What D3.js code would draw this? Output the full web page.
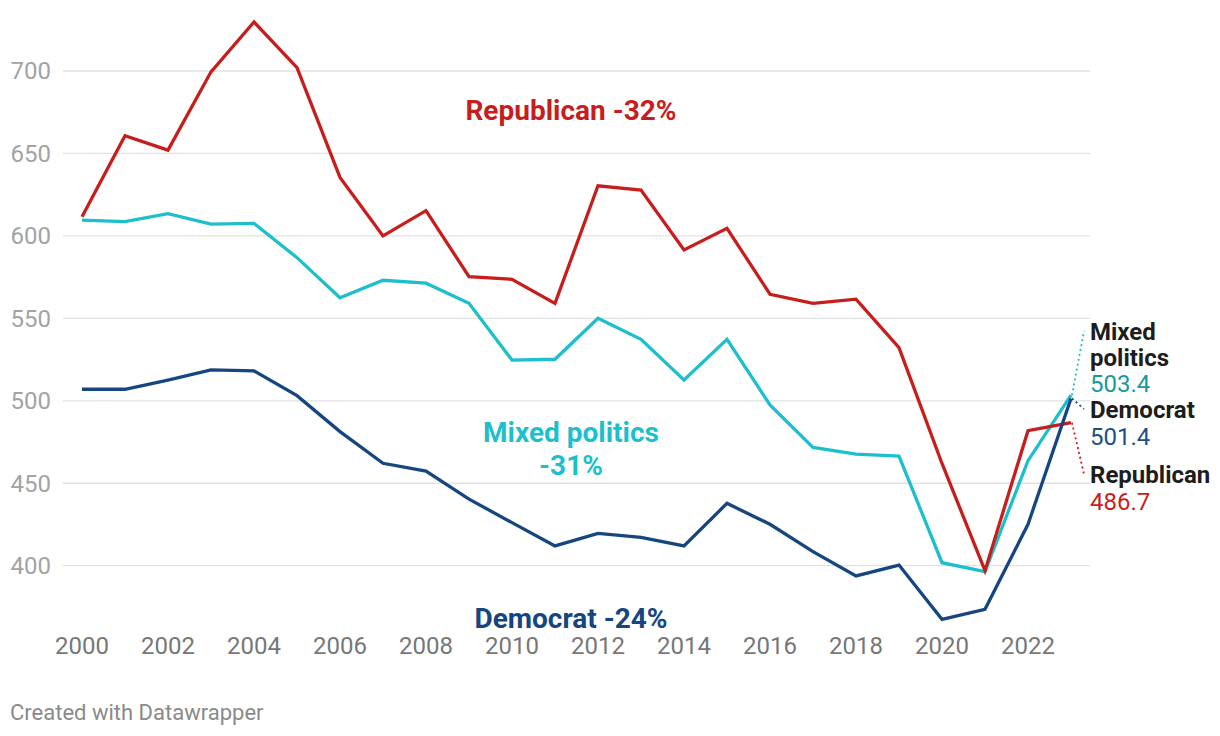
<!DOCTYPE html>
<html>
<head>
<meta charset="utf-8">
<script src="https://cdn.jsdelivr.net/npm/d3@7"></script>
<style>
  html, body { margin: 0; padding: 0; background: #fff; }
  svg { display: block; font-family: Roboto, "Noto Sans", sans-serif; }
</style>
</head>
<body>
<svg id="chart" width="1220" height="736"></svg>
<script>
// ---- Data ----
const years = d3.range(2000, 2024);
const republican = [611.6, 660.8, 652.0, 699.5, 729.7, 702.0, 635.5, 600.0, 615.3, 575.3, 573.7, 559.1, 630.4, 627.8, 591.5, 604.6, 564.6, 559.1, 561.6, 532.2, 462.0, 397.0, 481.9, 486.7];
const mixedPolitics = [609.6, 608.6, 613.5, 607.2, 607.6, 586.8, 562.5, 573.1, 571.3, 559.1, 524.7, 525.2, 550.0, 537.3, 512.6, 537.3, 497.5, 471.7, 467.7, 466.5, 401.8, 396.4, 463.7, 503.4];
const democrat = [507.0, 507.0, 512.6, 518.7, 518.1, 503.1, 481.3, 462.1, 457.4, 440.4, 426.1, 412.0, 419.6, 417.2, 412.0, 437.8, 425.1, 408.5, 393.8, 400.4, 367.5, 373.6, 425.1, 501.4];
const yTicks = [400, 450, 500, 550, 600, 650, 700];
const xTicks = [2000, 2002, 2004, 2006, 2008, 2010, 2012, 2014, 2016, 2018, 2020, 2022];
const seriesNames = ["Mixed politics", "Republican", "Democrat"];
const changeLabels = ["-31%", "-32%", "-24%"];

// ---- Styles ----
const colors = { "Mixed politics": "#1ebfcc", "Republican": "#c71e1d", "Democrat": "#15467f" };
const valueColors = { "Mixed politics": "#16999f", "Republican": "#c71e1d", "Democrat": "#1d4f87" };

const svg = d3.select("#chart");
const x = d3.scaleLinear().domain([2000, 2023]).range([82, 1071]);
const y = d3.scaleLinear().domain([400, 700]).range([565.7, 71]);

// gridlines
svg.append("g").selectAll("line").data(yTicks).join("line")
  .attr("x1", 63).attr("x2", 1090)
  .attr("y1", d => y(d)).attr("y2", d => y(d))
  .attr("stroke", "#e2e2e2").attr("stroke-width", 1.3);

// y labels
svg.append("g").selectAll("text").data(yTicks).join("text")
  .attr("x", 51).attr("y", d => y(d)).attr("dy", "0.35em")
  .attr("text-anchor", "end").attr("font-size", 24).attr("fill", "#a3a3a3")
  .text(d => d);

// x labels
svg.append("g").selectAll("text").data(xTicks).join("text")
  .attr("x", d => x(d)).attr("y", 654.3)
  .attr("text-anchor", "middle").attr("font-size", 24).attr("fill", "#777")
  .text(d => d);

const dataBy = { "Mixed politics": mixedPolitics, "Republican": republican, "Democrat": democrat };
const line = d3.line().x((d, i) => x(years[i])).y(d => y(d));

seriesNames.forEach(name => {
  svg.append("path").datum(dataBy[name])
    .attr("d", line).attr("fill", "none")
    .attr("stroke", colors[name]).attr("stroke-width", 3.3)
    .attr("stroke-linejoin", "miter").attr("stroke-miterlimit", 6);
});

// in-chart annotations
const annX = 571;
const annSize = 28;
svg.append("text").attr("x", annX).attr("y", 120).attr("text-anchor", "middle")
  .attr("font-size", annSize).attr("font-weight", 700).attr("fill", colors["Republican"])
  .text("Republican " + changeLabels[1]);
svg.append("text").attr("x", annX).attr("y", 441.7).attr("text-anchor", "middle")
  .attr("font-size", annSize).attr("font-weight", 700).attr("fill", colors["Mixed politics"])
  .text("Mixed politics");
svg.append("text").attr("x", annX).attr("y", 475).attr("text-anchor", "middle")
  .attr("font-size", annSize).attr("font-weight", 700).attr("fill", colors["Mixed politics"])
  .text(changeLabels[0]);
svg.append("text").attr("x", annX).attr("y", 627.8).attr("text-anchor", "middle")
  .attr("font-size", annSize).attr("font-weight", 700).attr("fill", colors["Democrat"])
  .text("Democrat " + changeLabels[2]);

// end labels
const endLabels = [
  { name: "Mixed politics", lines: ["Mixed", "politics"], top: 339.5, lh: 26.3 },
  { name: "Democrat", lines: ["Democrat"], top: 417.5, lh: 27.5 },
  { name: "Republican", lines: ["Republican"], top: 482.7, lh: 27.3 }
];
const lx = 1090;
endLabels.forEach(l => {
  const arr = dataBy[l.name];
  const last = arr[arr.length - 1];
  svg.append("line")
    .attr("x1", x(2023) + 1).attr("y1", y(last))
    .attr("x2", 1084).attr("y2", l.top - 8.5)
    .attr("stroke", colors[l.name]).attr("stroke-width", 1.8)
    .attr("stroke-dasharray", "2,3");
  l.lines.forEach((t, i) => {
    svg.append("text").attr("x", lx).attr("y", l.top + i * l.lh)
      .attr("font-size", 24).attr("font-weight", 700).attr("fill", "#1d1d1d").text(t);
  });
  svg.append("text").attr("x", lx).attr("y", l.top + l.lines.length * l.lh)
    .attr("font-size", 24).attr("fill", valueColors[l.name]).text(last.toFixed(1));
});

// footer
svg.append("text").attr("x", 10).attr("y", 719.5)
  .attr("font-size", 22).attr("fill", "#8a8a8a")
  .text("Created with Datawrapper");
</script>
</body>
</html>
